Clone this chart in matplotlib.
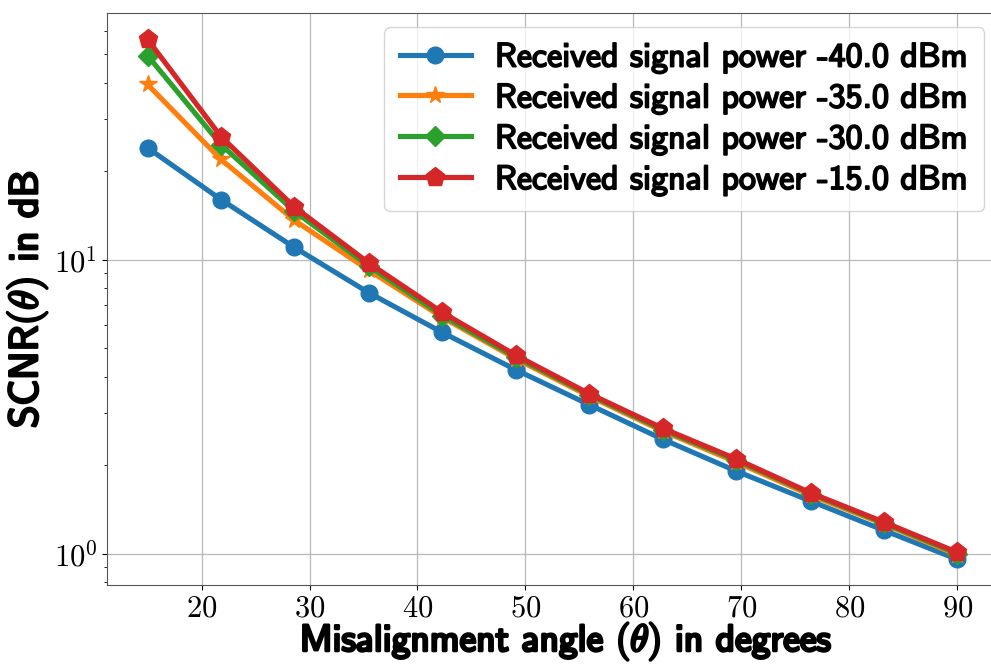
import numpy as np
import matplotlib
matplotlib.use("Agg")
import matplotlib.pyplot as plt
import matplotlib.patheffects as pe
from matplotlib.ticker import FuncFormatter, FixedLocator

plt.rcParams['mathtext.fontset'] = 'cm'
plt.rcParams['axes.unicode_minus'] = False

# Misalignment angles (degrees)
angles = [15.0, 21.8, 28.6, 35.5, 42.3, 49.1, 55.9, 62.7, 69.5, 76.4, 83.2, 90.0]

# SCNR values, one list per received power level
scnr_m40 = [24.0, 16.0, 11.0, 7.71, 5.65, 4.22, 3.21, 2.45, 1.91, 1.51, 1.20, 0.956]
scnr_m35 = [39.4, 21.9, 13.6, 9.20, 6.36, 4.60, 3.43, 2.61, 2.05, 1.58, 1.26, 0.99]
scnr_m30 = [49.4, 24.6, 14.6, 9.50, 6.45, 4.66, 3.47, 2.64, 2.08, 1.60, 1.27, 1.00]
scnr_m15 = [56.1, 26.2, 15.1, 9.73, 6.61, 4.73, 3.50, 2.67, 2.10, 1.61, 1.28, 1.01]

powers = ["-40.0", "-35.0", "-30.0", "-15.0"]
x_ticks = [20, 30, 40, 50, 60, 70, 80, 90]

series = [scnr_m40, scnr_m35, scnr_m30, scnr_m15]
markers = ['o', '*', 'D', 'p']
msizes = [12, 13, 10, 14]

sans = 'cmss10'

fig = plt.figure(figsize=(9.91, 6.66), dpi=100)
ax = fig.add_axes([0.108, 0.121, 0.899, 0.859])

for vals, p, m, ms in zip(series, powers, markers, msizes):
    ax.plot(angles, vals, marker=m, markersize=ms, linewidth=3.7,
            label=f"Received signal power {p} dBm")

ax.set_yscale('log')
ax.xaxis.set_major_locator(FixedLocator(x_ticks))
ax.xaxis.set_major_formatter(FuncFormatter(lambda v, pos: r'$%d$' % v))
ax.yaxis.set_major_formatter(FuncFormatter(lambda v, pos: r'$10^{%d}$' % round(np.log10(v))))
ax.tick_params(axis='both', which='major', labelsize=22)
ax.tick_params(axis='x', which='major', pad=2)
ax.grid(True, which='major', color='#b8b8b8', linewidth=0.9)

for s in ax.spines.values():
    s.set_color('#555555')

xl = ax.set_xlabel(r'Misalignment angle $(\theta)$ in degrees', fontsize=27,
                   family=sans, labelpad=-1.5)
xl.set_x(0.515)
yl = ax.set_ylabel(r'SCNR$(\theta)$ in dB', fontsize=29, family=sans, labelpad=3)
xl.set_path_effects([pe.withStroke(linewidth=2.0, foreground='black')])
yl.set_path_effects([pe.withStroke(linewidth=1.8, foreground='black')])

leg = ax.legend(loc='upper right', prop={'family': sans, 'size': 24.5},
                handlelength=2.1, handletextpad=0.7, labelspacing=0.28,
                borderaxespad=0.4, borderpad=0.45)
for t in leg.get_texts():
    t.set_path_effects([pe.withStroke(linewidth=1.3, foreground='black')])

fig.savefig('out.png', dpi=100)
